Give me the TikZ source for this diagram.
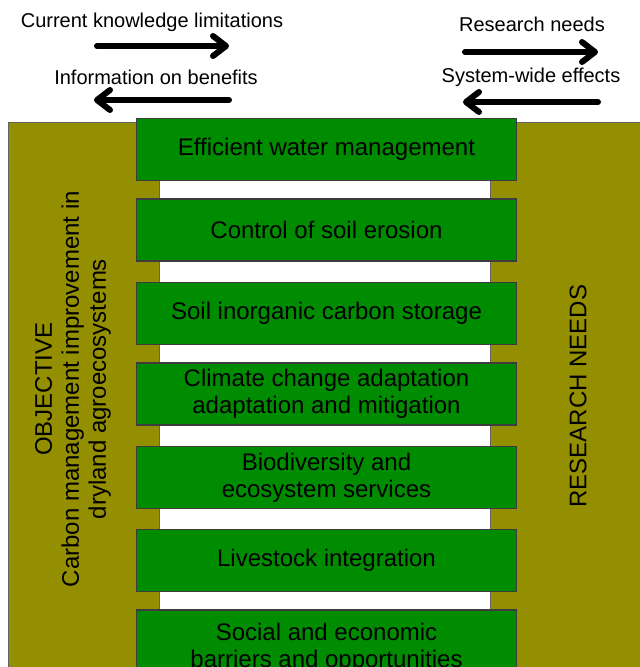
\documentclass[tikz,border=0pt]{standalone}
\usepackage{fontspec}
\setmainfont{Liberation Sans}
\usetikzlibrary{arrows.meta}
\definecolor{olijf}{RGB}{148,143,0}
\definecolor{blokgroen}{RGB}{0,140,0}
\definecolor{rand}{RGB}{60,60,60}
\tikzset{
  zijvlak/.style={fill=olijf, draw=rand!80, line width=1pt},
  blok/.style={rectangle, fill=blokgroen, draw=rand, line width=1.3pt,
    minimum width=380pt, inner sep=0pt, align=center,
    font=\fontsize{24}{27}\selectfont},
  kop/.style={inner sep=0pt, font=\fontsize{20}{24}\selectfont},
  zijtekst/.style={rotate=90, inner sep=0pt, align=center,
    font=\fontsize{24}{27}\selectfont},
  pijl/.style={line width=6pt, line cap=round,
    -{Straight Barb[length=13pt,width=20pt,round]}}
}
\begin{document}
\begin{tikzpicture}[x=1pt,y=-1pt]
\clip (0,0) rectangle (640,667);
\fill[white] (0,0) rectangle (640,667);

% Kopteksten en pijlen
\node[kop] (kennis) at (152,22) {Current knowledge limitations};
\node[kop] (info) at (156,77) {Information on benefits};
\node[kop] (onderzoek) at (532,24) {Research needs};
\node[kop] (systeem) at (531,77) {System-wide effects};
\coordinate (k1) at (97,46);  \coordinate (k2) at (229,46);
\coordinate (i1) at (229,100); \coordinate (i2) at (94,100);
\coordinate (o1) at (465,52); \coordinate (o2) at (598,52);
\coordinate (s1) at (598,102); \coordinate (s2) at (463,102);
\draw[pijl] (k1) -- (k2);
\draw[pijl] (i1) -- (i2);
\draw[pijl] (o1) -- (o2);
\draw[pijl] (s1) -- (s2);

% Zijvlakken
\draw[zijvlak] (8,122) rectangle (159,700);
\draw[zijvlak] (490,122) rectangle (660,700);
\node[zijtekst] (doel) at (73,389)
  {OBJECTIVE\\Carbon management improvement in\\dryland agroecosystems};
\node[zijtekst] (behoefte) at (578,396) {RESEARCH NEEDS};

% Groene blokken
\foreach \y/\h/\naam/\tekst in {
  149.5/62/water/Efficient water management,
  230/62/erosie/Control of soil erosion,
  313.5/62/koolstof/Soil inorganic carbon storage,
  394/62/klimaat/{Climate change adaptation\\adaptation and mitigation},
  477.5/62/biodiv/{Biodiversity and \\ecosystem services},
  560.5/62/vee/Livestock integration,
  648/76/sociaal/{Social and economic\\barriers and opportunities}} {
  \node[blok, minimum height=\h pt] (\naam) at (326.5,\y) {\tekst};
}
\end{tikzpicture}
\end{document}
